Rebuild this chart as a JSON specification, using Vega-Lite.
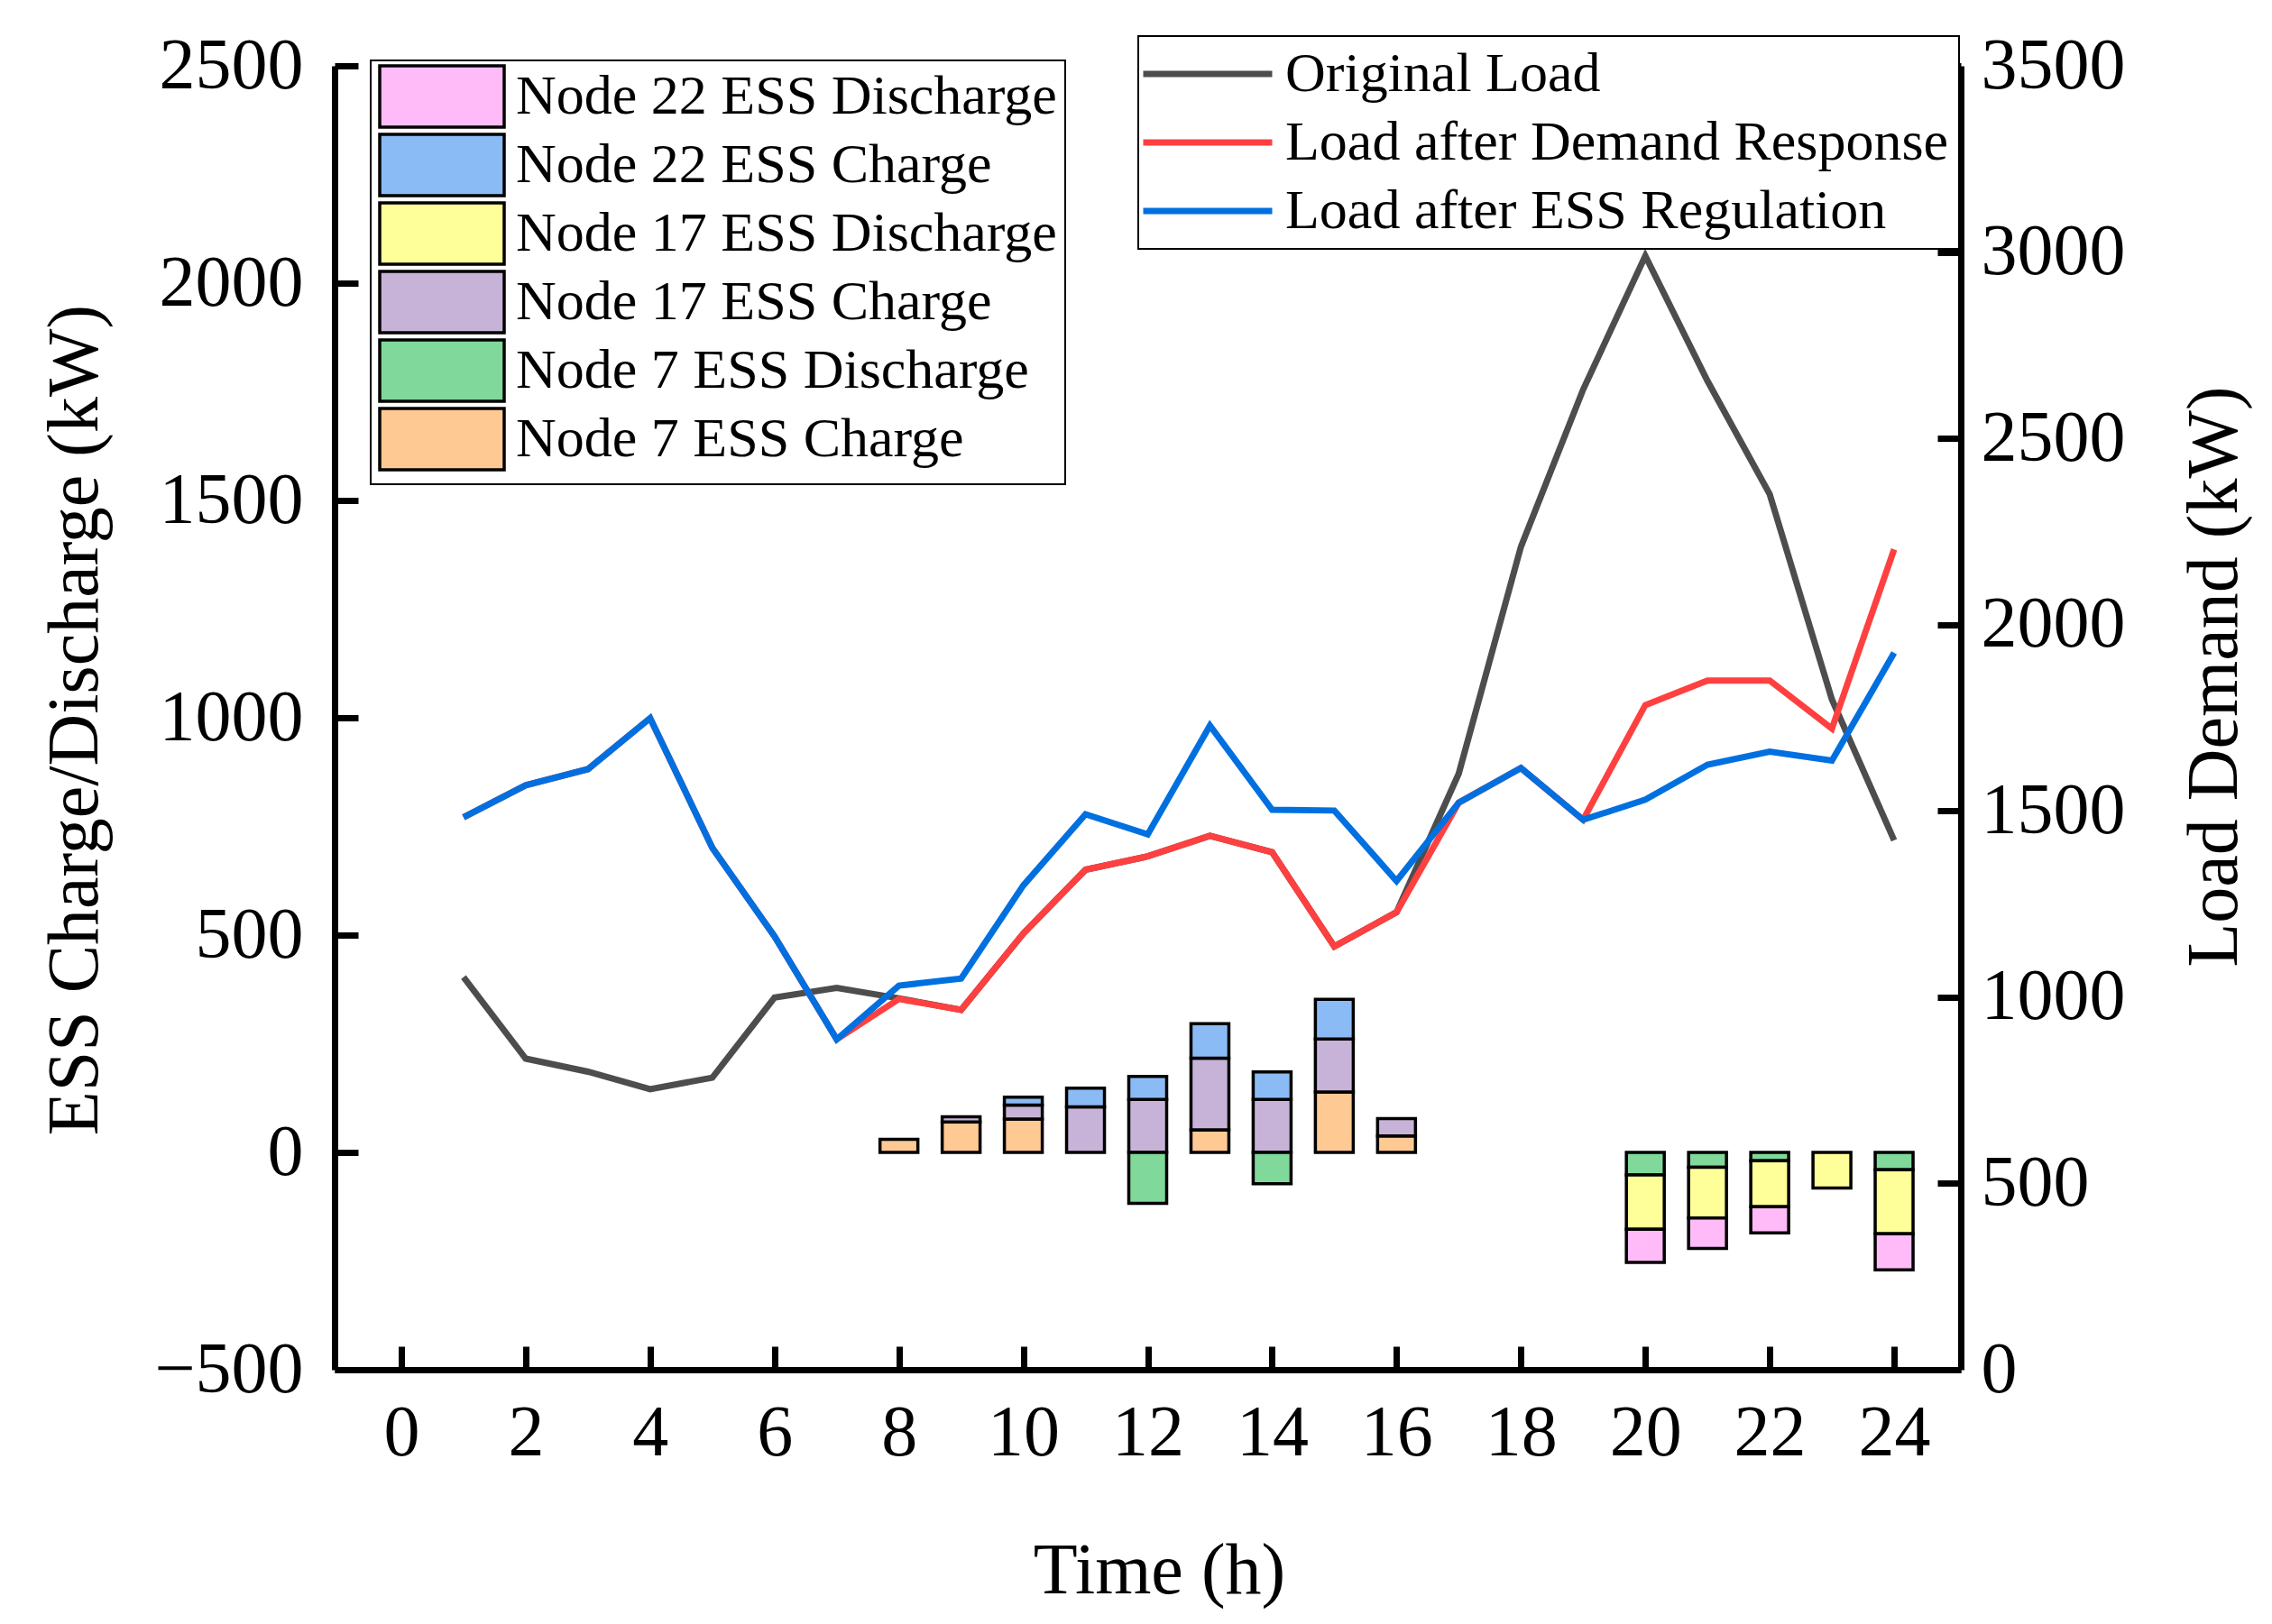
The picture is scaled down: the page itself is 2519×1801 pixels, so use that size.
{
  "$schema": "https://vega.github.io/schema/vega-lite/v6.json",
  "width": 1803,
  "height": 1446,
  "autosize": {"type": "none"},
  "padding": {"left": 371, "top": 73, "right": 345, "bottom": 282},
  "background": "white",
  "config": {
    "view": {"stroke": null},
    "font": "Liberation Serif",
    "axis": {
      "labelFont": "Liberation Serif",
      "titleFont": "Liberation Serif",
      "labelFontSize": 80,
      "titleFontSize": 80,
      "titleFontWeight": "normal",
      "labelColor": "black",
      "titleColor": "black",
      "domainColor": "black",
      "domainWidth": 7,
      "tickColor": "black",
      "tickWidth": 7,
      "tickSize": -26,
      "grid": false,
      "labelFlush": false,
      "labelOverlap": false
    },
    "legend": {
      "labelFont": "Liberation Serif",
      "labelFontSize": 62,
      "labelColor": "black",
      "labelLimit": 0,
      "strokeColor": "black",
      "strokeWidth": 2,
      "fillColor": "white"
    }
  },
  "layer": [
    {
      "data": {
        "values": [
          {"hour": 8, "series": "Node 7 ESS Charge", "node": 7, "kw": 30},
          {"hour": 9, "series": "Node 7 ESS Charge", "node": 7, "kw": 70},
          {"hour": 9, "series": "Node 17 ESS Charge", "node": 17, "kw": 12},
          {"hour": 10, "series": "Node 7 ESS Charge", "node": 7, "kw": 77},
          {"hour": 10, "series": "Node 17 ESS Charge", "node": 17, "kw": 32},
          {"hour": 10, "series": "Node 22 ESS Charge", "node": 22, "kw": 18},
          {"hour": 11, "series": "Node 17 ESS Charge", "node": 17, "kw": 105},
          {"hour": 11, "series": "Node 22 ESS Charge", "node": 22, "kw": 43},
          {"hour": 12, "series": "Node 17 ESS Charge", "node": 17, "kw": 122},
          {"hour": 12, "series": "Node 22 ESS Charge", "node": 22, "kw": 53},
          {"hour": 12, "series": "Node 7 ESS Discharge", "node": 7, "kw": -117},
          {"hour": 13, "series": "Node 7 ESS Charge", "node": 7, "kw": 52},
          {"hour": 13, "series": "Node 17 ESS Charge", "node": 17, "kw": 165},
          {"hour": 13, "series": "Node 22 ESS Charge", "node": 22, "kw": 79},
          {"hour": 14, "series": "Node 17 ESS Charge", "node": 17, "kw": 122},
          {"hour": 14, "series": "Node 22 ESS Charge", "node": 22, "kw": 63},
          {"hour": 14, "series": "Node 7 ESS Discharge", "node": 7, "kw": -72},
          {"hour": 15, "series": "Node 7 ESS Charge", "node": 7, "kw": 139},
          {"hour": 15, "series": "Node 17 ESS Charge", "node": 17, "kw": 122},
          {"hour": 15, "series": "Node 22 ESS Charge", "node": 22, "kw": 91},
          {"hour": 16, "series": "Node 7 ESS Charge", "node": 7, "kw": 38},
          {"hour": 16, "series": "Node 17 ESS Charge", "node": 17, "kw": 40},
          {"hour": 20, "series": "Node 7 ESS Discharge", "node": 7, "kw": -52},
          {"hour": 20, "series": "Node 17 ESS Discharge", "node": 17, "kw": -125},
          {"hour": 20, "series": "Node 22 ESS Discharge", "node": 22, "kw": -76},
          {"hour": 21, "series": "Node 7 ESS Discharge", "node": 7, "kw": -34},
          {"hour": 21, "series": "Node 17 ESS Discharge", "node": 17, "kw": -117},
          {"hour": 21, "series": "Node 22 ESS Discharge", "node": 22, "kw": -70},
          {"hour": 22, "series": "Node 7 ESS Discharge", "node": 7, "kw": -19},
          {"hour": 22, "series": "Node 17 ESS Discharge", "node": 17, "kw": -106},
          {"hour": 22, "series": "Node 22 ESS Discharge", "node": 22, "kw": -60},
          {"hour": 23, "series": "Node 17 ESS Discharge", "node": 17, "kw": -82},
          {"hour": 24, "series": "Node 7 ESS Discharge", "node": 7, "kw": -40},
          {"hour": 24, "series": "Node 17 ESS Discharge", "node": 17, "kw": -147},
          {"hour": 24, "series": "Node 22 ESS Discharge", "node": 22, "kw": -83}
        ]
      },
      "mark": {"type": "bar", "width": 42, "stroke": "black", "strokeWidth": 3.5},
      "encoding": {
        "x": {
          "field": "hour",
          "type": "quantitative",
          "scale": {"domain": [-1, 25], "nice": false, "zero": false},
          "axis": {
            "values": [0, 2, 4, 6, 8, 10, 12, 14, 16, 18, 20, 22, 24],
            "format": "d",
            "title": "Time (h)",
            "labelPadding": 57,
            "titleX": 914,
            "titleY": 223,
            "titleAlign": "center",
            "titleBaseline": "middle"
          }
        },
        "y": {
          "field": "kw",
          "type": "quantitative",
          "stack": "zero",
          "scale": {"domain": [-500, 2500], "nice": false},
          "axis": {
            "values": [-500, 0, 500, 1000, 1500, 2000, 2500],
            "format": "d",
            "title": "ESS Charge/Discharge (kW)",
            "labelPadding": 61,
            "titleAngle": 270,
            "titleX": -288,
            "titleY": 725,
            "titleAlign": "center",
            "titleBaseline": "middle"
          }
        },
        "fill": {
          "field": "series",
          "type": "nominal",
          "scale": {
            "domain": ["Node 22 ESS Discharge", "Node 22 ESS Charge", "Node 17 ESS Discharge", "Node 17 ESS Charge", "Node 7 ESS Discharge", "Node 7 ESS Charge"],
            "range": ["#FFBBF8", "#8BBBF4", "#FFFF99", "#C8B3D8", "#80D89A", "#FFC994"]
          },
          "legend": {
            "title": null,
            "orient": "none",
            "legendX": 40,
            "legendY": -6,
            "symbolType": "M-138,-68H138V68H-138Z",
            "symbolSize": 1,
            "symbolOffset": 39,
            "symbolStrokeColor": "black",
            "symbolStrokeWidth": 3.5,
            "labelOffset": 51,
            "rowPadding": -6,
            "padding": 9
          }
        },
        "order": {"field": "node", "type": "quantitative"}
      }
    },
    {
      "data": {
        "values": [
          {"hour": 1, "series": "Original Load", "kw": 1054},
          {"hour": 2, "series": "Original Load", "kw": 835},
          {"hour": 3, "series": "Original Load", "kw": 800},
          {"hour": 4, "series": "Original Load", "kw": 753},
          {"hour": 5, "series": "Original Load", "kw": 784},
          {"hour": 6, "series": "Original Load", "kw": 999},
          {"hour": 7, "series": "Original Load", "kw": 1025},
          {"hour": 8, "series": "Original Load", "kw": 997},
          {"hour": 9, "series": "Original Load", "kw": 966},
          {"hour": 10, "series": "Original Load", "kw": 1171},
          {"hour": 11, "series": "Original Load", "kw": 1342},
          {"hour": 12, "series": "Original Load", "kw": 1378},
          {"hour": 13, "series": "Original Load", "kw": 1433},
          {"hour": 14, "series": "Original Load", "kw": 1389},
          {"hour": 15, "series": "Original Load", "kw": 1136},
          {"hour": 16, "series": "Original Load", "kw": 1228},
          {"hour": 17, "series": "Original Load", "kw": 1600},
          {"hour": 18, "series": "Original Load", "kw": 2209},
          {"hour": 19, "series": "Original Load", "kw": 2631},
          {"hour": 20, "series": "Original Load", "kw": 2990},
          {"hour": 21, "series": "Original Load", "kw": 2654},
          {"hour": 22, "series": "Original Load", "kw": 2350},
          {"hour": 23, "series": "Original Load", "kw": 1799},
          {"hour": 24, "series": "Original Load", "kw": 1421},
          {"hour": 1, "series": "Load after Demand Response", "kw": 1483},
          {"hour": 2, "series": "Load after Demand Response", "kw": 1569},
          {"hour": 3, "series": "Load after Demand Response", "kw": 1612},
          {"hour": 4, "series": "Load after Demand Response", "kw": 1749},
          {"hour": 5, "series": "Load after Demand Response", "kw": 1401},
          {"hour": 6, "series": "Load after Demand Response", "kw": 1163},
          {"hour": 7, "series": "Load after Demand Response", "kw": 887},
          {"hour": 8, "series": "Load after Demand Response", "kw": 995},
          {"hour": 9, "series": "Load after Demand Response", "kw": 966},
          {"hour": 10, "series": "Load after Demand Response", "kw": 1171},
          {"hour": 11, "series": "Load after Demand Response", "kw": 1342},
          {"hour": 12, "series": "Load after Demand Response", "kw": 1378},
          {"hour": 13, "series": "Load after Demand Response", "kw": 1433},
          {"hour": 14, "series": "Load after Demand Response", "kw": 1389},
          {"hour": 15, "series": "Load after Demand Response", "kw": 1136},
          {"hour": 16, "series": "Load after Demand Response", "kw": 1228},
          {"hour": 17, "series": "Load after Demand Response", "kw": 1522},
          {"hour": 18, "series": "Load after Demand Response", "kw": 1615},
          {"hour": 19, "series": "Load after Demand Response", "kw": 1476},
          {"hour": 20, "series": "Load after Demand Response", "kw": 1784},
          {"hour": 21, "series": "Load after Demand Response", "kw": 1850},
          {"hour": 22, "series": "Load after Demand Response", "kw": 1850},
          {"hour": 23, "series": "Load after Demand Response", "kw": 1721},
          {"hour": 24, "series": "Load after Demand Response", "kw": 2202},
          {"hour": 1, "series": "Load after ESS Regulation", "kw": 1483},
          {"hour": 2, "series": "Load after ESS Regulation", "kw": 1569},
          {"hour": 3, "series": "Load after ESS Regulation", "kw": 1612},
          {"hour": 4, "series": "Load after ESS Regulation", "kw": 1749},
          {"hour": 5, "series": "Load after ESS Regulation", "kw": 1401},
          {"hour": 6, "series": "Load after ESS Regulation", "kw": 1163},
          {"hour": 7, "series": "Load after ESS Regulation", "kw": 887},
          {"hour": 8, "series": "Load after ESS Regulation", "kw": 1031},
          {"hour": 9, "series": "Load after ESS Regulation", "kw": 1050},
          {"hour": 10, "series": "Load after ESS Regulation", "kw": 1300},
          {"hour": 11, "series": "Load after ESS Regulation", "kw": 1491},
          {"hour": 12, "series": "Load after ESS Regulation", "kw": 1437},
          {"hour": 13, "series": "Load after ESS Regulation", "kw": 1729},
          {"hour": 14, "series": "Load after ESS Regulation", "kw": 1503},
          {"hour": 15, "series": "Load after ESS Regulation", "kw": 1501},
          {"hour": 16, "series": "Load after ESS Regulation", "kw": 1312},
          {"hour": 17, "series": "Load after ESS Regulation", "kw": 1522},
          {"hour": 18, "series": "Load after ESS Regulation", "kw": 1615},
          {"hour": 19, "series": "Load after ESS Regulation", "kw": 1476},
          {"hour": 20, "series": "Load after ESS Regulation", "kw": 1530},
          {"hour": 21, "series": "Load after ESS Regulation", "kw": 1624},
          {"hour": 22, "series": "Load after ESS Regulation", "kw": 1659},
          {"hour": 23, "series": "Load after ESS Regulation", "kw": 1635},
          {"hour": 24, "series": "Load after ESS Regulation", "kw": 1924}
        ]
      },
      "encoding": {
        "x": {"field": "hour", "type": "quantitative"},
        "y": {
          "field": "kw",
          "type": "quantitative",
          "scale": {"domain": [0, 3500], "nice": false},
          "axis": {
            "orient": "right",
            "values": [0, 500, 1000, 1500, 2000, 2500, 3000, 3500],
            "format": "d",
            "title": "Load Demand (kW)",
            "labelPadding": 48,
            "titleAngle": 270,
            "titleX": 281,
            "titleY": 677,
            "titleAlign": "center",
            "titleBaseline": "middle"
          }
        },
        "stroke": {
          "field": "series",
          "type": "nominal",
          "scale": {
            "domain": ["Original Load", "Load after Demand Response", "Load after ESS Regulation"],
            "range": ["#4D4D4D", "#FF4040", "#0070E0"]
          },
          "legend": {
            "title": null,
            "orient": "none",
            "legendX": 891,
            "legendY": -33,
            "symbolType": "M-143,0H143",
            "symbolSize": 1,
            "symbolOffset": 35,
            "symbolStrokeWidth": 7,
            "labelOffset": 55,
            "rowPadding": 14,
            "padding": 11
          }
        }
      },
      "layer": [
        {"transform": [{"filter": "datum.series == 'Original Load'"}], "mark": {"type": "line", "strokeWidth": 7}},
        {"transform": [{"filter": "datum.series == 'Load after Demand Response'"}], "mark": {"type": "line", "strokeWidth": 7}},
        {"transform": [{"filter": "datum.series == 'Load after ESS Regulation'"}], "mark": {"type": "line", "strokeWidth": 7}}
      ]
    }
  ],
  "resolve": {"scale": {"y": "independent"}}
}
